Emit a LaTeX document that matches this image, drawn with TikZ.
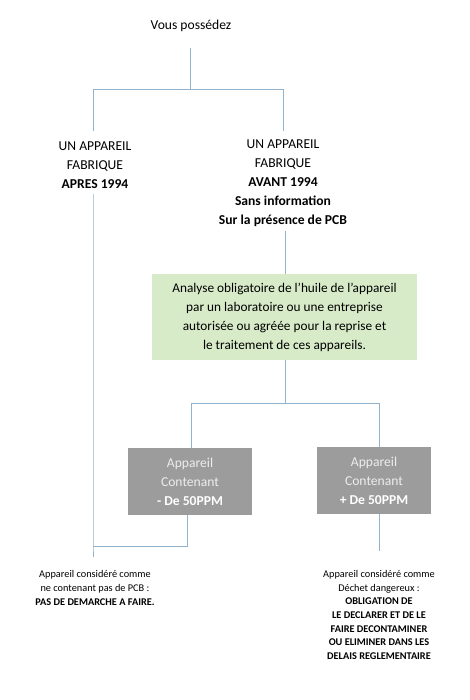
\documentclass[tikz,border=0pt]{standalone}
\usepackage{fontspec}
\setmainfont{Carlito}
\definecolor{linec}{HTML}{93B3CC}
\definecolor{greenbox}{HTML}{D8EBC8}
\definecolor{graybox}{HTML}{9C9C9C}
\definecolor{graytext}{HTML}{EDEDED}
\begin{document}
\begin{tikzpicture}[x=1pt,y=-1pt,
  conn/.style={draw=linec,line width=0.8pt},
  lbl/.style={align=center,font=\fontsize{13.6}{19}\selectfont,inner sep=0pt,text=black},
  small/.style={align=center,font=\fontsize{10.3}{13.6}\selectfont,inner sep=0pt,text=black},
  greenstep/.style={fill=greenbox,align=center,font=\fontsize{13.3}{19}\selectfont,inner sep=0pt,minimum width=265pt,minimum height=86pt,text=black},
  graystep/.style={fill=graybox,align=center,font=\fontsize{13.6}{19}\selectfont,inner sep=0pt,minimum height=67pt,text=graytext}]
\useasboundingbox[fill=white] (0,0) rectangle (470,700);

\node[lbl] (top) at (191,26) {Vous possédez};
\node[lbl] (left) at (95,165) {UN APPAREIL\\FABRIQUE\\\textbf{APRES 1994}};
\node[lbl] (right) at (283,183) {UN APPAREIL\\FABRIQUE\\\textbf{AVANT 1994}\\\textbf{Sans information}\\\textbf{Sur la présence de PCB}};
\node[greenstep] (analyse) at (284.5,317) {Analyse obligatoire de l’huile de l’appareil\\par un laboratoire ou une entreprise\\autorisée ou agréée pour la reprise et\\le traitement de ces appareils.};
\node[graystep,minimum width=124pt] (moins) at (190,481.5) {Appareil\\Contenant\\\textbf{\color{white}- De 50PPM}};
\node[graystep,minimum width=114pt] (plus) at (374,480.5) {Appareil\\Contenant\\\textbf{\color{white}+ De 50PPM}};
\node[small] (resleft) at (95,588) {Appareil considéré comme\\ne contenant pas de PCB :\\\textbf{PAS DE DEMARCHE A FAIRE.}};
\node[small] (resright) at (379,615) {Appareil considéré comme\\Déchet dangereux :\\\textbf{OBLIGATION DE}\\\textbf{LE DECLARER ET DE LE}\\\textbf{FAIRE DECONTAMINER}\\\textbf{OU ELIMINER DANS LES}\\\textbf{DELAIS REGLEMENTAIRE}};

% coordinates
\coordinate (t1) at (190,48);
\coordinate (s1) at (190,89);
\coordinate (sl) at (93,89);
\coordinate (sr) at (283,89);
\coordinate (sle) at (93,131);
\coordinate (sre) at (283,131);
\coordinate (l1) at (93,194);
\coordinate (lj) at (93,546);
\coordinate (le) at (93,557);
\coordinate (mj) at (187,546);
\coordinate (r1) at (285,231);
\coordinate (ga) at (285,274);
\coordinate (gb) at (285,360);
\coordinate (s2) at (285,403);
\coordinate (s2l) at (191,403);
\coordinate (s2r) at (379,403);
\coordinate (m1) at (191,448);
\coordinate (p1) at (379,447);
\coordinate (mb) at (187,515);
\coordinate (pb) at (379,514);
\coordinate (pe) at (379,551);

\draw[conn] (t1) -- (s1);
\draw[conn] (sle) -- (sl) -- (sr) -- (sre);
\draw[conn] (l1) -- (lj) -- (le);
\draw[conn] (lj) -- (mj) -- (mb);
\draw[conn] (r1) -- (ga);
\draw[conn] (gb) -- (s2);
\draw[conn] (m1) -- (s2l) -- (s2r) -- (p1);
\draw[conn] (pb) -- (pe);
\end{tikzpicture}
\end{document}
